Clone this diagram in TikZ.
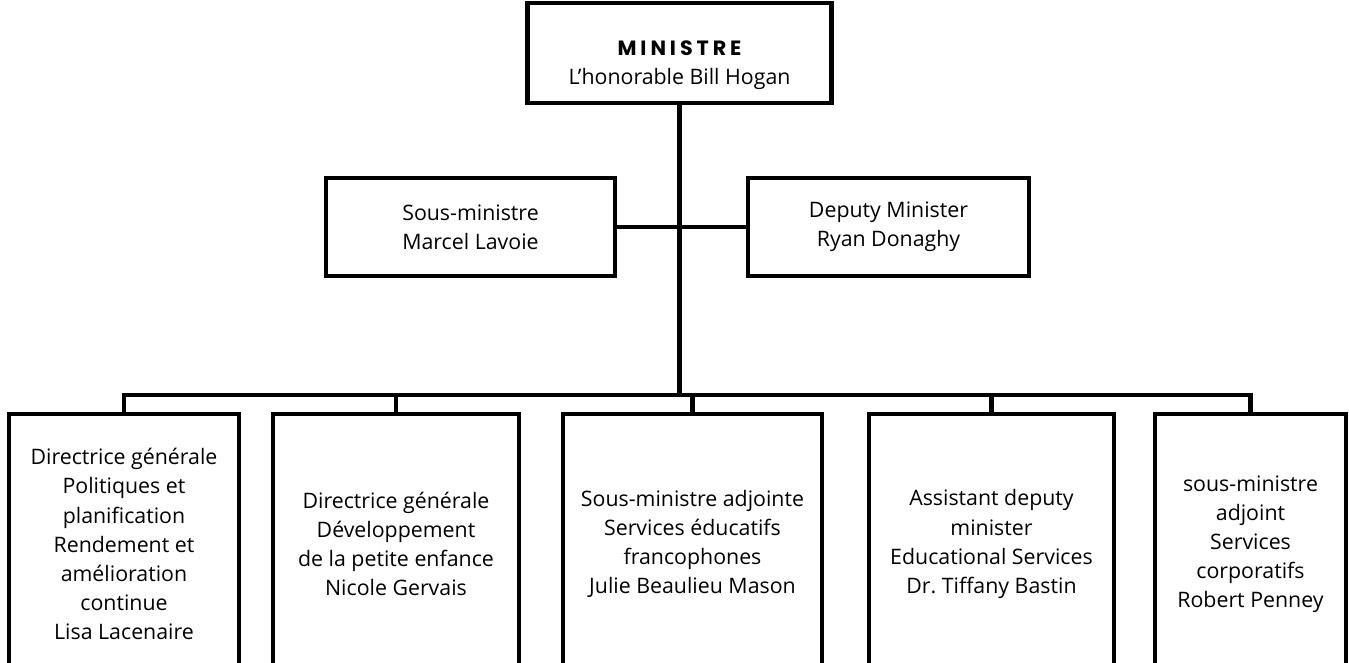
\documentclass[tikz,border=0pt]{standalone}
\usepackage{fontspec}
\setmainfont{Open Sans}
\newfontfamily\titlefont[LetterSpace=19]{Poppins}
\usepackage{tikz}

\begin{document}
\frenchspacing
\begin{tikzpicture}[x=0.75pt, y=-0.75pt,
    box/.style={draw, rectangle, line width=3.4pt, align=center,
                font=\fontsize{16}{21.8}\selectfont, inner sep=2pt},
    link/.style={line width=3.4pt}]
            \useasboundingbox (0,0) rectangle (1349,663);
            % top
            \node[box, minimum width=228pt, minimum height=75pt] (min) at (679.5,53)
                {\rule{0pt}{29pt}{\titlefont\bfseries\fontsize{15.5}{22.5}\selectfont MINISTRE}\\[0pt]L'honorable Bill Hogan};
            \node[box, minimum width=216.75pt, minimum height=73.5pt] (sm) at (470.5,227)
                {Sous-ministre\\Marcel Lavoie};
            \node[box, minimum width=210.75pt, minimum height=73.5pt] (dm) at (888.5,227)
                {Deputy Minister\\Ryan Donaghy};
            % bottom row
            \node[box, minimum width=172.5pt, minimum height=195pt] (b1) at (124,544)
                {Directrice générale\\Politiques et\\planification\\Rendement et\\amélioration\\continue\\Lisa Lacenaire};
            \node[box, minimum width=184.5pt, minimum height=195pt] (b2) at (396,544)
                {Directrice générale\\Développement\\de la petite enfance\\Nicole Gervais};
            \node[box, minimum width=194.25pt, minimum height=195pt] (b3) at (692.5,544)
                {Sous-ministre adjointe\\Services éducatifs\\francophones\\Julie Beaulieu Mason};
            \node[box, minimum width=183.75pt, minimum height=195pt] (b4) at (991.5,544)
                {Assistant deputy\\minister\\Educational Services\\Dr. Tiffany Bastin};
            \node[box, minimum width=143.25pt, minimum height=195pt] (b5) at (1250.5,544)
                {sous-ministre\\adjoint\\Services\\corporatifs\\Robert Penney};
            \coordinate (bus) at (679.5,395);
            \draw[link] (min.south) -- (bus);
            \draw[link] (sm.east) -- (dm.west);
            \draw[link] (bus) -| (b1.north);
            \draw[link] (bus) -| (b2.north);
            \draw[link] (bus) -| (b3.north);
            \draw[link] (bus) -| (b4.north);
            \draw[link] (bus) -| (b5.north);
        \end{tikzpicture}
\end{document}
